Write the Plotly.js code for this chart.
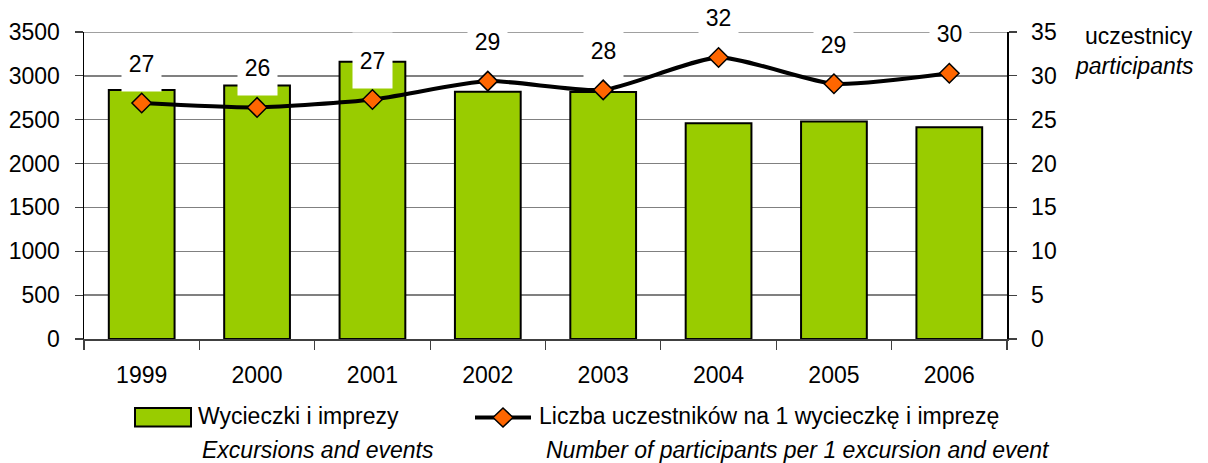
<!DOCTYPE html>
<html>
<head>
<meta charset="utf-8">
<script src="https://cdn.plot.ly/plotly-3.0.1.min.js"></script>
<style>html,body{margin:0;padding:0;background:#fff;}#chart{width:1208px;height:463px;}</style>
</head>
<body>
<div id="chart"></div>
<script>
// ---- data ----
const years = ['1999','2000','2001','2002','2003','2004','2005','2006'];
const excursions = [2840, 2890, 3160, 2820, 2815, 2460, 2480, 2415];
const participantsPer = [26.9, 26.4, 27.3, 29.4, 28.4, 32.1, 29.1, 30.3];
const leftTicks = [0, 500, 1000, 1500, 2000, 2500, 3000, 3500];
const rightTicks = [0, 5, 10, 15, 20, 25, 30, 35];
const barName = 'Wycieczki i imprezy';
const barNameEn = 'Excursions and events';
const lineName = 'Liczba uczestników na 1 wycieczkę i imprezę';
const lineNameEn = 'Number of participants per 1 excursion and event';
const rightTitle = 'uczestnicy';
const rightTitleEn = 'participants';

// ---- layout helpers ----
const W = 1208, H = 463;
const M = {l: 84, r: 201, t: 32, b: 124};
const PW = W - M.l - M.r, PH = H - M.t - M.b;
const px = x => (x - M.l) / PW;
const py = y => (H - M.b - y) / PH;
const FONT = 'Liberation Sans, Arial, sans-serif';
const GREEN = '#99CC00', ORANGE = '#FF6600';

const traces = [
  {
    type: 'bar', x: years, y: excursions, name: barName,
    marker: {color: GREEN, line: {color: '#000', width: 2}},
    showlegend: false, hoverinfo: 'skip'
  },
  {
    type: 'scatter', mode: 'lines+markers', x: years, y: participantsPer, yaxis: 'y2', name: lineName,
    line: {color: '#000', width: 4, shape: 'spline', smoothing: 0.6},
    marker: {symbol: 'diamond', size: 15, color: ORANGE, line: {color: '#000', width: 1.5}},
    showlegend: false, hoverinfo: 'skip'
  }
];

// data labels (category axis -> use category index)
const annotations = years.map((yr, i) => ({
  x: i, y: participantsPer[i], xref: 'x', yref: 'y2',
  text: participantsPer[i].toFixed(0), showarrow: false,
  yshift: 39.5, width: 39, height: 55, borderpad: 0,
  bgcolor: '#fff', font: {family: FONT, size: 23, color: '#000'}
}));

function txt(text, x, y, anchor, italic) {
  return {
    text: text, xref: 'paper', yref: 'paper', x: px(x), y: py(y),
    xanchor: anchor, yanchor: 'middle', showarrow: false,
    font: {family: FONT, size: 23, color: '#000', style: italic ? 'italic' : 'normal'}
  };
}
annotations.push(txt(rightTitle, 1139, 35.5, 'center', false));
annotations.push(txt(rightTitleEn, 1134, 66, 'center', true));
annotations.push(txt(barName, 196, 416.5, 'left', false));
annotations.push(txt(barNameEn, 200, 450, 'left', true));
annotations.push(txt(lineName, 537, 416.5, 'left', false));
annotations.push(txt(lineNameEn, 544, 450, 'left', true));

const dcx = 503, dcy = 417.5, dw = 10, dh = 9.5;
const shapes = [
  // top gridline at the axis maximum (Plotly does not draw a grid line on the range edge)
  {type: 'line', xref: 'paper', yref: 'y', x0: 0, x1: 1, y0: leftTicks[leftTicks.length - 1], y1: leftTicks[leftTicks.length - 1],
   layer: 'below', line: {color: '#808080', width: 1.5}},
  {type: 'rect', xref: 'paper', yref: 'paper', x0: px(135), x1: px(191), y0: py(426.5), y1: py(408),
   fillcolor: GREEN, line: {color: '#000', width: 2}},
  {type: 'line', xref: 'paper', yref: 'paper', x0: px(475), x1: px(531), y0: py(dcy), y1: py(dcy),
   line: {color: '#000', width: 4}},
  {type: 'path', xref: 'paper', yref: 'paper',
   path: `M${px(dcx)},${py(dcy - dh)} L${px(dcx + dw)},${py(dcy)} L${px(dcx)},${py(dcy + dh)} L${px(dcx - dw)},${py(dcy)} Z`,
   fillcolor: ORANGE, line: {color: '#000', width: 1.5}}
];

const layout = {
  width: W, height: H, margin: M,
  paper_bgcolor: '#fff', plot_bgcolor: '#fff',
  font: {family: FONT, size: 23, color: '#000'},
  bargap: 0.43, showlegend: false,
  xaxis: {
    type: 'category', tickson: 'boundaries', ticks: 'outside', ticklen: 9, tickwidth: 1.2,
    tickcolor: '#404040', showline: true, linecolor: '#404040', linewidth: 1.5,
    showgrid: false, ticklabelstandoff: 15, tickangle: 0,
    tickfont: {family: FONT, size: 23, color: '#000'}
  },
  yaxis: {
    range: [0, 3500], tickvals: leftTicks, ticktext: leftTicks.map(String),
    ticks: 'outside', ticklen: 8, tickwidth: 1.2, tickcolor: '#404040',
    showline: true, linecolor: '#000', linewidth: 1.5,
    showgrid: true, gridcolor: '#808080', gridwidth: 1.5, zeroline: false,
    ticklabelstandoff: 10, tickfont: {family: FONT, size: 23, color: '#000'}
  },
  yaxis2: {
    overlaying: 'y', side: 'right', range: [0, 35], tickvals: rightTicks, ticktext: rightTicks.map(String),
    ticks: 'outside', ticklen: 8, tickwidth: 1.2, tickcolor: '#404040',
    showline: true, linecolor: '#000', linewidth: 1.5,
    showgrid: false, zeroline: false,
    ticklabelstandoff: 10, tickfont: {family: FONT, size: 23, color: '#000'}
  },
  annotations: annotations,
  shapes: shapes
};

Plotly.newPlot('chart', traces, layout, {staticPlot: true, displayModeBar: false});
</script>
</body>
</html>
